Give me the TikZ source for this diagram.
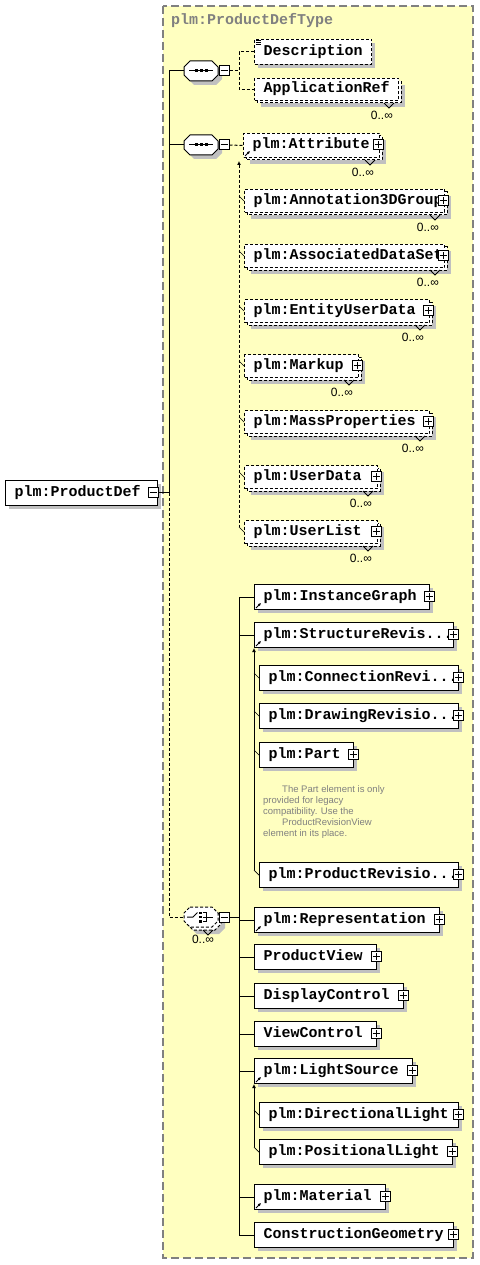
\documentclass[tikz,border=0pt]{standalone}
\usepackage{fontspec}
\setmainfont{Liberation Sans}
\newfontfamily\monofam{Liberation Mono}
\usetikzlibrary{arrows.meta}
\definecolor{typefill}{HTML}{FFFFC0}
\definecolor{typeline}{HTML}{808080}
\definecolor{shadowc}{HTML}{C0C0C0}
\definecolor{anncol}{HTML}{808080}
\newcommand\elfont{\monofam\bfseries\fontsize{15}{15}\selectfont}
\newcommand\multfont{\fontsize{12}{12}\selectfont}
\newcommand\annfont{\fontsize{9.5}{9.5}\selectfont}
\tikzset{
  elbox/.style={draw=black, fill=white, line width=1pt, anchor=north west,
    inner xsep=9pt, inner ysep=0pt, align=left, font=\elfont,
    text height=10pt, text depth=3pt},
  dsh/.style={dash pattern=on 3pt off 2pt},
  pmbox/.style={draw=black, fill=white, line width=1pt, minimum size=10pt, inner sep=0pt},
  conn/.style={line width=1pt},
  tick/.style={line width=0.7pt},
  mult/.style={font=\multfont, inner sep=0pt},
  ann/.style={font=\annfont, text=anncol, inner sep=0pt, anchor=base west},
  refarr/.style={line width=1pt, -{Latex[length=3pt,width=3pt]}},
  subarr/.style={{Latex[length=4pt,width=4pt]}-}
}
% single element box: name x1 y1 x2 y2 style text
\newcommand\ElS[7]{%
  \fill[shadowc] (#2+4,#3+4) rectangle (#4+4,#5+4);
  \pgfmathsetmacro\elw{#4-#2-18}%
  \pgfmathsetmacro\elh{#5-#3}%
  \node[elbox,#6,text width=\elw pt,minimum height=\elh pt] (#1) at (#2,#3) {\mbox{#7}};
}
% repeated (stacked) optional element box: name x1 y1 x2 y2 text
\newcommand\ElM[6]{%
  \fill[shadowc] (#2+7,#3+7) rectangle (#4+4,#5+4);
  \draw[line width=1pt,dsh,fill=white] (#2+3,#3+3) rectangle (#4,#5);
  \pgfmathsetmacro\elw{#4-#2-21}%
  \pgfmathsetmacro\elh{#5-#3-3}%
  \node[elbox,dsh,text width=\elw pt,minimum height=\elh pt] (#1) at (#2,#3) {\mbox{#6}};
  \draw[line width=0.8pt] (#4-17,#5) -- (#4-12,#5+5) -- (#4-7,#5);
  \node[mult,anchor=east] (#1-m) at (#4-8,#5+12) {0..∞};
}
\newcommand\PlusBox[3]{%
  \node[pmbox] (#1) at (#2,#3) {};
  \draw[line width=1pt] ([xshift=-3.5pt]#1.center) -- ([xshift=3.5pt]#1.center)
    ([yshift=-3.5pt]#1.center) -- ([yshift=3.5pt]#1.center);
}
\newcommand\MinusBox[3]{%
  \node[pmbox] (#1) at (#2,#3) {};
  \draw[line width=1pt] ([xshift=-3.5pt]#1.center) -- ([xshift=3.5pt]#1.center);
}
\newcommand\OctPath[3]{%
  \path[#3] (#1-11,#2-10) -- (#1+11,#2-10) -- (#1+17,#2-4) -- (#1+17,#2+4)
    -- (#1+11,#2+10) -- (#1-11,#2+10) -- (#1-17,#2+4) -- (#1-17,#2-4) -- cycle;
}
\newcommand\SeqSym[2]{%
  \draw[line width=1pt] (#1-12,#2) -- (#1+12,#2);
  \fill (#1-6.5,#2-1.5) rectangle ++(3,3);
  \fill (#1-1.5,#2-1.5) rectangle ++(3,3);
  \fill (#1+3.5,#2-1.5) rectangle ++(3,3);
}
\newcommand\RefArrow[1]{%
  \draw[refarr] ([shift={(2,-2)}]#1.south west) -- ++(5,-5);
}
\begin{document}
\begin{tikzpicture}[x=1pt,y=-1pt]
\useasboundingbox (0,0) rectangle (479,1265);
% complex type frame
\draw[typeline, fill=typefill, line width=1.2pt, dash pattern=on 8pt off 4pt] (163,6) rectangle (473,1258);
\node[font=\elfont, text=typeline, anchor=base west, inner sep=0pt] (title) at (171,25) {plm:ProductDefType};

% root element
\ElS{root}{5}{480}{157}{505}{}{plm:ProductDef}
\MinusBox{root-pm}{153}{492.5}

% first sequence
\OctPath{205}{75}{fill=shadowc}
\OctPath{201}{71}{draw,fill=white,line width=1pt}
\node[inner sep=0pt,minimum width=34pt,minimum height=20pt] (seq1) at (201,71) {};
\SeqSym{201}{71}
\MinusBox{seq1-pm}{224}{71}

\ElS{desc}{254}{39}{371}{64}{dsh}{Description}
\draw[line width=0.6pt] (255.5,40.5) -- (260.5,40.5) (255.5,42.2) -- (260.5,42.2) (255.5,43.9) -- (260.5,43.9);
\ElM{appref}{254}{78}{401}{103}{ApplicationRef}

% second sequence
\OctPath{205}{149}{fill=shadowc}
\OctPath{201}{145}{draw,fill=white,line width=1pt}
\node[inner sep=0pt,minimum width=34pt,minimum height=20pt] (seq2) at (201,145) {};
\SeqSym{201}{145}
\MinusBox{seq2-pm}{224}{145}

\ElM{attr}{243}{133}{382}{160}{plm:Attribute}
\PlusBox{attr-pb}{378}{145}
\RefArrow{attr}
\ElM{a3d}{244}{189}{447}{215}{plm:Annotation3DGroup}
\PlusBox{a3d-pb}{443}{200.5}
\ElM{ads}{244}{244}{447}{270}{plm:AssociatedDataSet}
\PlusBox{ads-pb}{443}{255.5}
\ElM{eud}{244}{299}{432}{325}{plm:EntityUserData}
\PlusBox{eud-pb}{428}{310.5}
\ElM{mku}{244}{354}{361}{380}{plm:Markup}
\PlusBox{mku-pb}{357}{365.5}
\ElM{mpr}{244}{410}{432}{436}{plm:MassProperties}
\PlusBox{mpr-pb}{428}{421.5}
\ElM{udt}{244}{465}{380}{491}{plm:UserData}
\PlusBox{udt-pb}{376}{476.5}
\ElM{ulist}{244}{520}{380}{546}{plm:UserList}
\PlusBox{ulist-pb}{376}{531.5}

% choice
\OctPath{208}{924}{fill=shadowc}
\OctPath{204}{920}{draw,fill=white,line width=1pt,dsh}
\OctPath{201}{917}{draw,fill=white,line width=1pt,dsh}
\node[inner sep=0pt,minimum width=34pt,minimum height=20pt] (cho) at (201,917) {};
\draw[line width=1pt] (187,917) -- (193,917) -- (197.5,912.5);
\fill (199,911.5) rectangle ++(2.6,2.6);
\fill (199,915.7) rectangle ++(2.6,2.6);
\fill (199,919.9) rectangle ++(2.6,2.6);
\draw[line width=1pt] (202.5,912.8) -- (206,912.8) -- (206,921.2) -- (202.5,921.2)
  (202.5,917) -- (213,917);
\draw[line width=0.8pt] (203,930) -- (208,935) -- (213,930);
\MinusBox{cho-pm}{224}{917}
\node[mult] (cho-m) at (203,939) {0..∞};

% choice members
\ElS{instg}{254}{584}{429}{609}{}{plm:InstanceGraph}
\PlusBox{instg-pb}{429}{596.5}
\RefArrow{instg}
\ElS{strev}{254}{622}{453}{647}{}{plm:StructureRevis...}
\PlusBox{strev-pb}{453}{634.5}
\RefArrow{strev}
\ElS{conrev}{259}{665}{458}{690}{}{plm:ConnectionRevi...}
\PlusBox{conrev-pb}{458}{677.5}
\ElS{drwrev}{259}{703}{458}{728}{}{plm:DrawingRevisio...}
\PlusBox{drwrev-pb}{458}{715.5}
\ElS{part}{259}{742}{353}{767}{}{plm:Part}
\PlusBox{part-pb}{353}{754.5}
\node[ann] (ann1) at (282,792) {The Part element is only};
\node[ann] (ann2) at (263,803) {provided for legacy};
\node[ann] (ann3) at (263,814) {compatibility. Use the};
\node[ann] (ann4) at (282,825) {ProductRevisionView};
\node[ann] (ann5) at (263,836) {element in its place.};
\ElS{prodrev}{259}{862}{458}{887}{}{plm:ProductRevisio...}
\PlusBox{prodrev-pb}{458}{874.5}
\ElS{repr}{254}{907}{439}{932}{}{plm:Representation}
\PlusBox{repr-pb}{439}{919.5}
\RefArrow{repr}
\ElS{pview}{254}{944}{376}{969}{}{ProductView}
\PlusBox{pview-pb}{376}{956.5}
\ElS{dctrl}{254}{983}{403}{1008}{}{DisplayControl}
\PlusBox{dctrl-pb}{403}{995.5}
\ElS{vctrl}{254}{1021}{376}{1046}{}{ViewControl}
\PlusBox{vctrl-pb}{376}{1033.5}
\ElS{lights}{254}{1058}{412}{1083}{}{plm:LightSource}
\PlusBox{lights-pb}{412}{1070.5}
\RefArrow{lights}
\ElS{dirl}{259}{1102}{458}{1127}{}{plm:DirectionalLight}
\PlusBox{dirl-pb}{458}{1114.5}
\ElS{posl}{259}{1139}{452}{1164}{}{plm:PositionalLight}
\PlusBox{posl-pb}{452}{1151.5}
\ElS{mater}{254}{1184}{385}{1209}{}{plm:Material}
\PlusBox{mater-pb}{385}{1196.5}
\RefArrow{mater}
\ElS{cgeo}{254}{1222}{453}{1247}{}{ConstructionGeometry}
\PlusBox{cgeo-pb}{453}{1234.5}

% connectors
\coordinate (trunk) at (169,492.5);
\draw[conn] (root-pm.east) -- (trunk);
\draw[conn] (seq1.west) -| (trunk);
\draw[conn] (seq2.west) -- (seq2.west -| trunk);
\draw[conn,dsh] (trunk) |- (cho.west);

\coordinate (s1x) at (239,71);
\draw[conn,dsh] (seq1-pm.east) -- (s1x);
\draw[conn,dsh] (desc.west) -| (s1x) |- (appref.west);

\draw[conn,dsh] (seq2-pm.east) -- (attr.west);
\coordinate (s2top) at (239,161);
\draw[conn,dsh,subarr] (s2top) -- ([shift={(-5,-5)}]ulist.west);
\foreach \n in {a3d,ads,eud,mku,mpr,udt,ulist}
  \draw[tick] ([shift={(-5,-5)}]\n.west) -- (\n.west);

\coordinate (chx) at (239,917);
\draw[conn] (cho-pm.east) -- (chx);
\draw[conn] (instg.west) -| (chx);
\draw[conn] (cgeo.west) -| (chx);
\foreach \n in {strev,repr,pview,dctrl,vctrl,lights,mater}
  \draw[conn] (\n.west) -- (\n.west -| chx);

\coordinate (sub2top) at (254,648);
\draw[conn,subarr] (sub2top) -- ([shift={(-5,-5)}]prodrev.west);
\foreach \n in {conrev,drwrev,part,prodrev}
  \draw[tick] ([shift={(-5,-5)}]\n.west) -- (\n.west);

\coordinate (sub3top) at (254,1084);
\draw[conn,subarr] (sub3top) -- ([shift={(-5,-5)}]posl.west);
\foreach \n in {dirl,posl}
  \draw[tick] ([shift={(-5,-5)}]\n.west) -- (\n.west);
\end{tikzpicture}
\end{document}
